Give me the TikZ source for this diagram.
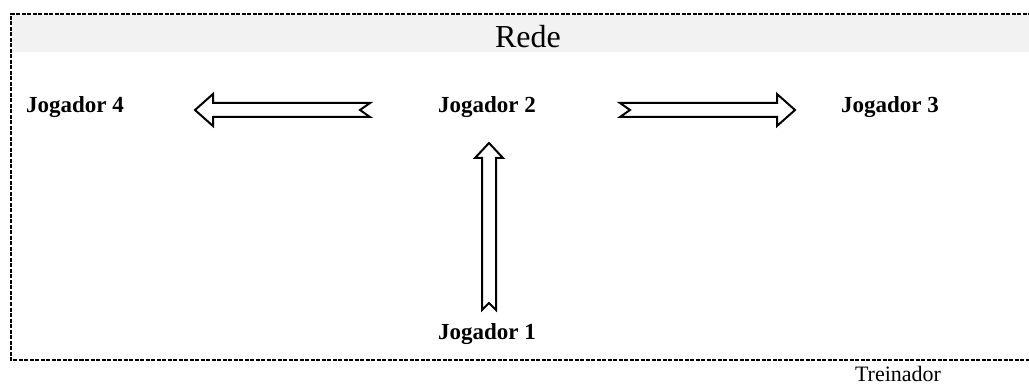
\documentclass[tikz,border=0pt]{standalone}
\usepackage{fontspec}
\setmainfont{Liberation Serif}
\begin{document}
\begin{tikzpicture}[x=1pt,y=-1pt,
  frame/.style={line width=1.2pt, dash pattern=on 4pt off 1.5pt},
  player/.style={font=\fontsize{23}{27}\selectfont\bfseries, inner sep=0pt},
  blockarrow/.style={draw=black, fill=white, line width=2pt, line join=miter},
  title/.style={font=\fontsize{32}{38}\selectfont, inner sep=0pt},
  coach/.style={font=\fontsize{22}{26}\selectfont, inner sep=0pt}]
\useasboundingbox (0,0) rectangle (1029,385);
% band
\fill[gray!10] (12,15) rectangle (1029,52);
\draw[frame] (1032,14) -- (11,14) -- (11,360) -- (1032,360);
\node[title] (rede) at (528,37) {Rede};
\node[player] (j4) at (75,107) {Jogador 4};
\node[player] (j2) at (487,107) {Jogador 2};
\node[player] (j3) at (890,107) {Jogador 3};
\node[player] (j1) at (487,334) {Jogador 1};
\node[coach] (tr) at (898,374) {Treinador};
% left arrow
\coordinate (la) at (195,110);
\draw[blockarrow] (la) -- ++(18,-16) -- ++(0,9) -- ++(157,0) -- ++(-10,7) -- ++(10,7) -- ++(-157,0) -- ++(0,9) -- cycle;
% right arrow
\coordinate (ra) at (795,110);
\draw[blockarrow] (ra) -- ++(-18,-16) -- ++(0,9) -- ++(-157,0) -- ++(10,7) -- ++(-10,7) -- ++(157,0) -- ++(0,9) -- cycle;
% up arrow
\coordinate (ua) at (489,143);
\draw[blockarrow] (ua) -- ++(14,15) -- ++(-7,0) -- ++(0,152) -- ++(-7,-7) -- ++(-7,7) -- ++(0,-152) -- ++(-7,0) -- cycle;
\end{tikzpicture}
\end{document}
